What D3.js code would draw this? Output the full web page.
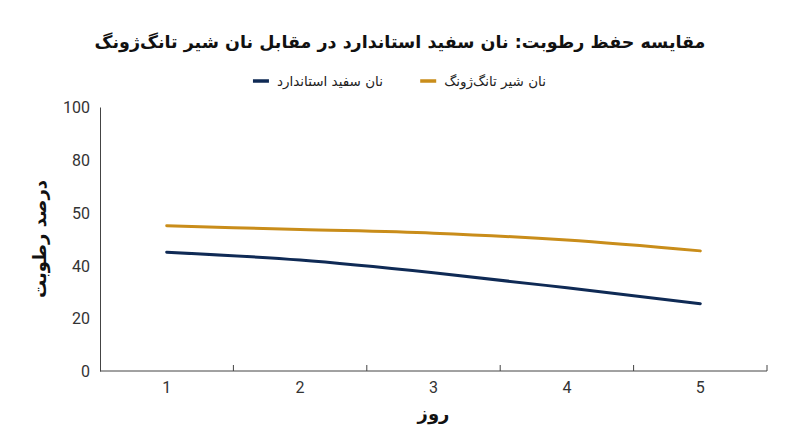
<!DOCTYPE html>
<html lang="fa">
<head>
  <meta charset="UTF-8" />
  <title>مقایسه حفظ رطوبت</title>
  <style>
    body { margin: 0; background: #fff; }
    svg { display: block; }
    .title { font-family: 'DejaVu Sans', sans-serif; font-weight: bold; font-size: 17.5px; fill: #111; }
    .axis-title { font-family: 'DejaVu Sans', sans-serif; font-weight: bold; font-size: 18px; fill: #111; }
    .legend text { font-family: 'DejaVu Sans', sans-serif; font-size: 13.5px; fill: #222; }
    .axis text { font-family: Roboto, sans-serif; font-size: 16px; fill: #333; }
    .axis path, .axis line { stroke: #444; }
    .line { fill: none; stroke-width: 3px; stroke-linecap: round; }
  </style>
</head>
<body>
  <svg id="chart"></svg>
  <script src="https://d3js.org/d3.v7.min.js"></script>
  <script>
    const days = [1, 2, 3, 4, 5];
    const standard = [45, 42, 37.2, 31.5, 25.5];
    const tangzhong = [55, 53.6, 52.2, 49.6, 45.5];
    const yTicks = [0, 20, 40, 60, 80, 100];
    const yTickLabels = ["0", "20", "40", "50", "80", "100"];
    const seriesNames = ["نان سفید استاندارد", "نان شیر تانگ‌ژونگ"];
    const colors = ["#0f2a55", "#c98d1a"];

    const width = 800, height = 447;
    const margin = { top: 107, right: 33, bottom: 76, left: 100 };

    const svg = d3.select("#chart").attr("width", width).attr("height", height);

    const x = d3.scaleBand().domain(days).range([margin.left, width - margin.right]);
    const y = d3.scaleLinear().domain([0, 100]).range([height - margin.bottom, margin.top]);

    // x axis: ticks at band edges, labels at band centres
    const xAxis = svg.append("g")
      .attr("class", "axis")
      .attr("transform", `translate(0,${height - margin.bottom})`);
    xAxis.append("path")
      .attr("d", `M${x.range()[0]},0H${x.range()[1]}`);
    xAxis.selectAll(".edge")
      .data(days.slice(1).concat(["end"]))
      .join("line")
      .attr("class", "edge")
      .attr("x1", d => d === "end" ? x.range()[1] : x(d))
      .attr("x2", d => d === "end" ? x.range()[1] : x(d))
      .attr("y1", 0).attr("y2", -6);
    xAxis.selectAll(".lbl")
      .data(days)
      .join("text")
      .attr("class", "lbl")
      .attr("x", d => x(d) + x.bandwidth() / 2)
      .attr("y", 22)
      .attr("text-anchor", "middle")
      .text(d => d);

    // y axis
    svg.append("g")
      .attr("class", "axis")
      .attr("transform", `translate(${margin.left},0)`)
      .call(d3.axisLeft(y).tickValues(yTicks).tickSize(0).tickPadding(10)
        .tickFormat((d, i) => yTickLabels[i]))
      .call(g => g.selectAll("text").attr("dy", "0.35em"));

    const line = d3.line()
      .x((d, i) => x(days[i]) + x.bandwidth() / 2)
      .y(d => y(d))
      .curve(d3.curveMonotoneX);

    [standard, tangzhong].forEach((s, i) => {
      svg.append("path")
        .datum(s)
        .attr("class", "line")
        .attr("stroke", colors[i])
        .attr("d", line);
    });

    svg.append("text")
      .attr("class", "title")
      .attr("x", width / 2).attr("y", 48)
      .attr("text-anchor", "middle")
      .attr("direction", "rtl")
      .text("مقایسه حفظ رطوبت: نان سفید استاندارد در مقابل نان شیر تانگ‌ژونگ");

    // legend, right to left
    const legend = svg.append("g").attr("class", "legend");
    const legendItems = [
      { name: seriesNames[1], color: colors[1], right: 546 },
      { name: seriesNames[0], color: colors[0], right: 383 }
    ];
    legendItems.forEach(d => {
      const t = legend.append("text")
        .attr("x", d.right).attr("y", 86)
        .attr("text-anchor", "start")
        .attr("direction", "rtl")
        .text(d.name);
      const w = t.node().getComputedTextLength();
      legend.append("line")
        .attr("x1", d.right - w - 24).attr("x2", d.right - w - 8)
        .attr("y1", 81).attr("y2", 81)
        .attr("stroke", d.color).attr("stroke-width", 3.5);
    });

    svg.append("text")
      .attr("class", "axis-title")
      .attr("x", (x.range()[0] + x.range()[1]) / 2).attr("y", 420)
      .attr("text-anchor", "middle")
      .text("روز");

    svg.append("text")
      .attr("class", "axis-title")
      .attr("transform", `translate(46,${(y(0) + y(100)) / 2}) rotate(-90)`)
      .attr("text-anchor", "middle")
      .attr("direction", "rtl")
      .text("درصد رطوبت");
  </script>
</body>
</html>
